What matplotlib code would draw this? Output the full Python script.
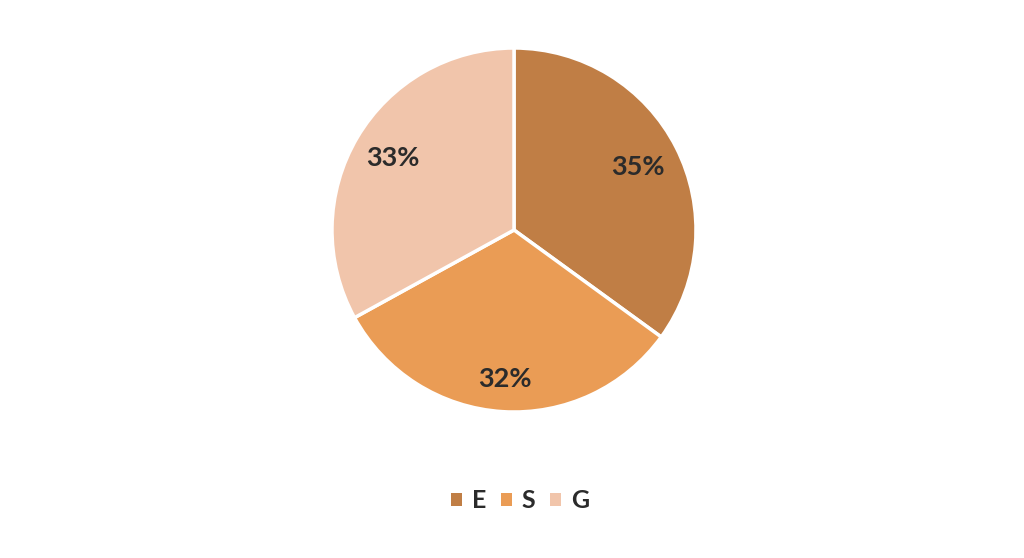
import matplotlib
matplotlib.use("Agg")
import matplotlib.pyplot as plt
from matplotlib.patches import Patch
import numpy as np

categories = ["E", "S", "G"]
values = [35, 32, 33]
colors = ["#C07E45", "#EA9C55", "#F1C5AB"]
label_dist = [0.763, 0.82, 0.773]

plt.rcParams['font.family'] = ['Lato', 'DejaVu Sans']

fig = plt.figure(figsize=(10.24, 5.58), dpi=100)
cx, cy, r = 514, 230, 182
W, H = 1024, 558
ax = fig.add_axes([(cx - r) / W, (H - cy - r) / H, 2 * r / W, 2 * r / H])
wedges, texts, autotexts = ax.pie(
    values, colors=colors, startangle=90, counterclock=False,
    autopct=lambda p: f"{p:.0f}%", pctdistance=0.78,
    wedgeprops=dict(edgecolor="white", linewidth=2.5),
    textprops=dict(fontsize=19.5, fontweight="bold", color="#2B2B2B"))
for w, t, d in zip(wedges, autotexts, label_dist):
    ang = np.deg2rad((w.theta1 + w.theta2) / 2)
    t.set_position((d * np.cos(ang), d * np.sin(ang)))
ax.set_aspect("equal")
ax.set_xlim(-1.0, 1.0)
ax.set_ylim(-1.0, 1.0)

handles = [Patch(facecolor=c, edgecolor="none") for c in colors]
leg = fig.legend(handles, categories, loc="center", bbox_to_anchor=(520 / W, 1 - 501 / H),
                 ncol=3, frameon=False, handlelength=0.42, handleheight=0.42,
                 handletextpad=0.4, columnspacing=0.6,
                 prop=dict(family=['Lato', 'DejaVu Sans'], weight="bold", size=18))
for t in leg.get_texts():
    t.set_color("#2B2B2B")

fig.savefig("out.png", dpi=100, facecolor="white")
